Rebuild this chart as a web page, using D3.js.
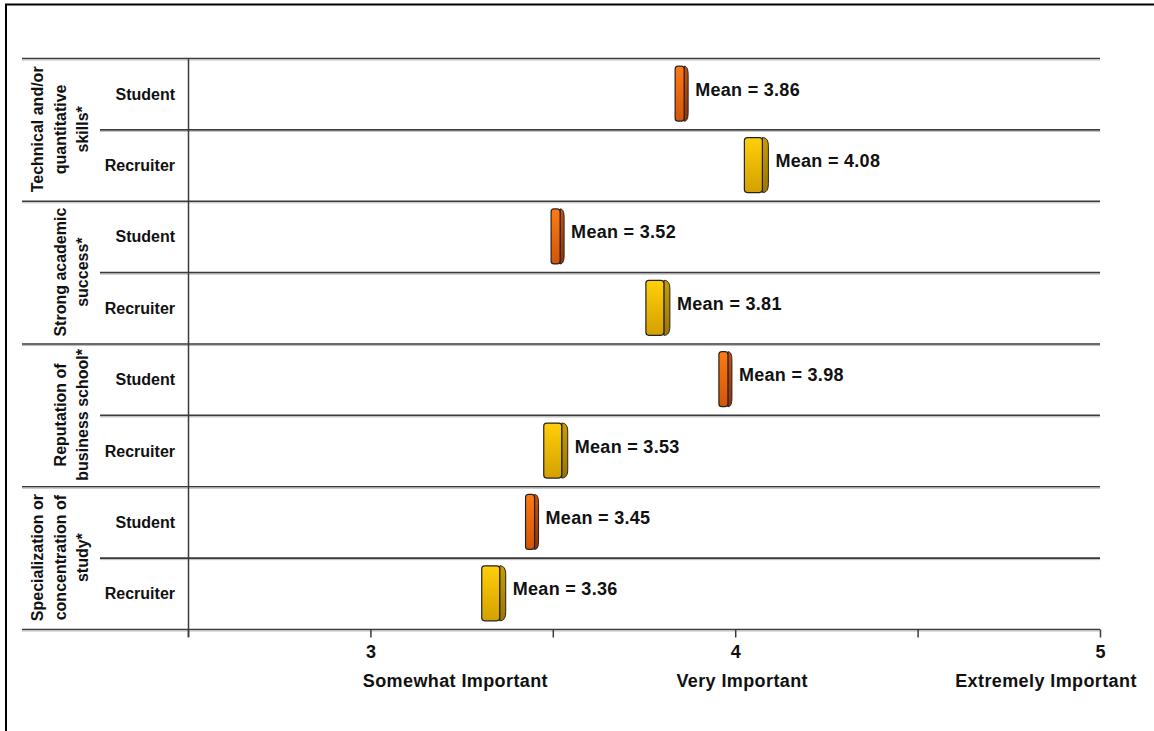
<!DOCTYPE html>
<html><head><meta charset="utf-8">
<script src="https://cdn.jsdelivr.net/npm/d3@7"></script>
<style>
html,body{margin:0;padding:0;background:#fff;}
svg{display:block;font-family:"Liberation Sans",Arial,sans-serif;font-weight:bold;}
</style></head>
<body>
<script>
// ---- data ----
const groups = [
  ["Technical and/or","quantitative","skills*"],
  ["Strong academic","success*"],
  ["Reputation of","business school*"],
  ["Specialization or","concentration of","study*"]
];
const respondents = ["Student","Recruiter"];
const studentMeans   = [3.86, 3.52, 3.98, 3.45];
const recruiterMeans = [4.08, 3.81, 3.53, 3.36];
const tickValues = [2.5, 3, 3.5, 4, 4.5, 5];
const tickLabels = ["", "3", "", "4", "", "5"];
const anchorLabels = ["Somewhat Important","Very Important","Extremely Important"];
const anchorValues = [3, 4, 5];

// ---- layout ----
const W = 1154, H = 731;
const svg = d3.select("body").append("svg").attr("width", W).attr("height", H);

// border
svg.append("path").attr("d", `M6,731 L6,4.5 L1154,4.5`).attr("fill","none")
  .attr("stroke","#000").attr("stroke-width",2);

const x = d3.scaleLinear().domain([2.5, 5]).range([188, 1100]);
const rows = [];
groups.forEach((g, gi) => respondents.forEach((r, ri) => {
  rows.push({group: gi, resp: r, value: ri === 0 ? studentMeans[gi] : recruiterMeans[gi]});
}));
const y = d3.scaleBand().domain(d3.range(rows.length)).range([58, 629]).padding(0);

// gradients
const defs = svg.append("defs");
function grad(id, c1, c2) {
  const g = defs.append("linearGradient").attr("id", id).attr("x1",0).attr("y1",0).attr("x2",0).attr("y2",1);
  g.append("stop").attr("offset","0%").attr("stop-color", c1);
  g.append("stop").attr("offset","100%").attr("stop-color", c2);
}
grad("gStu", "#ff7a12", "#d45508");
grad("gStuS", "#c85208", "#8e3502");
grad("gRec", "#ffcf0a", "#d4a000");
grad("gRec S".replace(" ",""), "#c99c00", "#9a7600");

// grid lines
const lineCol = "#3a3a3a";
for (let i = 0; i <= rows.length; i++) {
  const yy = i === rows.length ? 629 : y(i);
  const x0 = (i % 2 === 0) ? 22 : 100;
  svg.append("line").attr("x1", x0).attr("x2", 1100).attr("y1", yy + 0.5).attr("y2", yy + 0.5)
    .attr("stroke", lineCol).attr("stroke-width", 1.6);
  svg.append("line").attr("x1", x0).attr("x2", 1100).attr("y1", yy + 2).attr("y2", yy + 2)
    .attr("stroke", "#bbb").attr("stroke-width", 1);
}
// vertical axis line
svg.append("line").attr("x1", 188.5).attr("x2", 188.5).attr("y1", 58).attr("y2", 637)
  .attr("stroke", lineCol).attr("stroke-width", 1.5);

// x axis
const axis = d3.axisBottom(x).tickValues(tickValues)
  .tickFormat((d, i) => tickLabels[i]).tickSize(8).tickSizeOuter(0).tickPadding(8);
const ax = svg.append("g").attr("transform", "translate(0,629.5)").call(axis);
ax.select(".domain").remove();
ax.selectAll(".tick line").attr("stroke", lineCol).attr("stroke-width", 1.5);
ax.selectAll(".tick text").attr("fill", "#111").style("font-size", "18px")
  .style("font-weight", "bold").style("font-family", '"Liberation Sans",Arial,sans-serif');

// anchor labels (offset from their tick)
const anchorDx = [85, 7, -54];
svg.selectAll("text.anchor").data(anchorLabels).join("text").attr("class","anchor")
  .attr("x", (d, i) => x(anchorValues[i]) + anchorDx[i]).attr("y", 687)
  .attr("text-anchor", "middle").attr("fill", "#111").style("font-size", "18px")
  .style("letter-spacing", "0.4px").text(d => d);

// respondent labels
svg.selectAll("text.resp").data(rows).join("text").attr("class","resp")
  .attr("x", 175).attr("y", (d, i) => y(i) + y.bandwidth() / 2 + 6)
  .attr("text-anchor", "end").attr("fill", "#111").style("font-size", "16px")
  .text(d => d.resp);

// group labels (rotated)
groups.forEach((g, gi) => {
  const cy = (y(gi * 2) + y(gi * 2 + 1) + y.bandwidth()) / 2;
  const n = g.length;
  g.forEach((line, li) => {
    const cx = 82 - (n - 1 - li) * 22.5;
    svg.append("text").attr("transform", `translate(${cx + 6},${cy}) rotate(-90)`)
      .attr("text-anchor", "middle").attr("fill", "#111").style("font-size", "16px")
      .text(line);
  });
});

// markers
const mH = 55;
rows.forEach((d, i) => {
  const stu = d.resp === "Student";
  const fw = stu ? 9 : 18, sw = stu ? 4 : 6;
  const right = x(d.value) + 4;
  const x1 = right - sw, x0 = x1 - fw;
  const cy = y(i) + y.bandwidth() / 2;
  const top = cy - mH / 2, bot = cy + mH / 2;
  const g = svg.append("g");
  // side
  g.append("path").attr("d",
    `M${x1},${top} C${x1 + sw * 0.7},${top} ${right},${top + 3} ${right},${top + 9}
     L${right},${bot - 9} C${right},${bot - 3} ${x1 + sw * 0.7},${bot} ${x1},${bot} Z`)
    .attr("fill", stu ? "url(#gStuS)" : "url(#gRecS)").attr("stroke", "#222").attr("stroke-width", 1);
  // face
  g.append("rect").attr("x", x0).attr("y", top).attr("width", fw).attr("height", mH)
    .attr("rx", 3).attr("fill", stu ? "url(#gStu)" : "url(#gRec)")
    .attr("stroke", "#222").attr("stroke-width", 1.2);
  // label
  svg.append("text").attr("x", right + 7).attr("y", cy + 2)
    .attr("fill", "#111").style("font-size", "18px").style("letter-spacing", "0.3px")
    .text(`Mean = ${d.value.toFixed(2)}`);
});
</script>
</body></html>
